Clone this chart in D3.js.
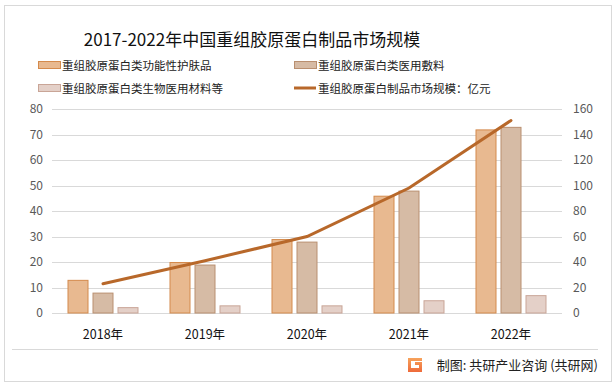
<!DOCTYPE html>
<html>
<head>
<meta charset="utf-8">
<script src="https://cdn.jsdelivr.net/npm/d3@7"></script>
<style>
  body { margin: 0; background: #fff; }
  svg { display: block; font-family: "Noto Sans CJK SC", "Microsoft YaHei", sans-serif; }
</style>
</head>
<body>
<div id="chart"></div>
<script>
const years = ['2018年', '2019年', '2020年', '2021年', '2022年'];
const seriesNames = ['重组胶原蛋白类功能性护肤品', '重组胶原蛋白类医用敷料', '重组胶原蛋白类生物医用材料等'];
const skincare = [13, 20, 29, 46, 72];
const dressing = [8, 19, 28, 48, 73];
const material = [2.3, 3, 3, 5, 7];
const lineName = '重组胶原蛋白制品市场规模：亿元';
const marketSize = [23, 41, 60, 98, 151];
const leftTicks = [0, 10, 20, 30, 40, 50, 60, 70, 80];
const rightTicks = [0, 20, 40, 60, 80, 100, 120, 140, 160];

const W = 616, H = 387;
const fills = ['#e8b990', '#d6bba5', '#e4d0c8'];
const strokes = ['#d48a4c', '#b98f70', '#c9a597'];
const lineColor = '#b8682a';

const svg = d3.select('#chart').append('svg').attr('width', W).attr('height', H);

// outer frame
svg.append('rect')
    .attr('x', 4.5).attr('y', 5.5).attr('width', 607).attr('height', 376)
    .attr('fill', 'none').attr('stroke', '#d9d9d9');

// title
svg.append('text')
    .attr('x', 252).attr('y', 46)
    .attr('text-anchor', 'middle')
    .attr('font-size', '17px')
    .attr('fill', '#111')
    .text('2017-2022年中国重组胶原蛋白制品市场规模');

// legend
const legend = [
    { x: 38, y: 65, kind: 'bar', i: 0, name: seriesNames[0] },
    { x: 294, y: 65, kind: 'bar', i: 1, name: seriesNames[1] },
    { x: 38, y: 88, kind: 'bar', i: 2, name: seriesNames[2] },
    { x: 294, y: 88, kind: 'line', name: lineName }
];
legend.forEach(d => {
    if (d.kind === 'bar') {
        svg.append('rect')
            .attr('x', d.x + 0.5).attr('y', d.y - 3.5).attr('width', 22).attr('height', 7)
            .attr('fill', fills[d.i]).attr('stroke', strokes[d.i]);
    } else {
        svg.append('line')
            .attr('x1', d.x).attr('x2', d.x + 22).attr('y1', d.y).attr('y2', d.y)
            .attr('stroke', lineColor).attr('stroke-width', 3);
    }
    svg.append('text')
        .attr('x', d.x + 24).attr('y', d.y + 4.5)
        .attr('font-size', '11.5px').attr('fill', '#222')
        .text(d.name);
});

// scales
const x0 = d3.scaleBand().domain(years).range([52, 562]);
const x1 = d3.scaleBand().domain([0, 1, 2]).range([-35.5, 35.5]).paddingInner(0.16);
const yL = d3.scaleLinear().domain([0, 80]).range([313, 109]);
const yR = d3.scaleLinear().domain([0, 160]).range([313, 109]);

// grid
svg.append('g').selectAll('line')
    .data(leftTicks)
    .join('line')
    .attr('x1', 52).attr('x2', 562)
    .attr('y1', d => Math.round(yL(d)) + 0.5).attr('y2', d => Math.round(yL(d)) + 0.5)
    .attr('stroke', '#d9d9d9');

// left axis
svg.append('g').selectAll('text')
    .data(leftTicks)
    .join('text')
    .attr('x', 43).attr('y', d => yL(d) + 4)
    .attr('text-anchor', 'end')
    .attr('font-size', '12px').attr('fill', '#595959')
    .text(d => d);

// right axis
svg.append('g').selectAll('text')
    .data(rightTicks)
    .join('text')
    .attr('x', 573).attr('y', d => yR(d) + 4)
    .attr('font-size', '12px').attr('fill', '#595959')
    .text(d => d);

// bars
const series = [skincare, dressing, material];
series.forEach((vals, i) => {
    svg.append('g').selectAll('rect')
        .data(vals)
        .join('rect')
        .attr('x', (d, j) => x0(years[j]) + x0.bandwidth() / 2 + x1(i) + 0.5)
        .attr('y', d => yL(d) + 0.5)
        .attr('width', x1.bandwidth() - 1)
        .attr('height', d => yL(0) - yL(d) - 0.5)
        .attr('fill', fills[i])
        .attr('stroke', strokes[i]);
});

// category labels
svg.append('g').selectAll('text')
    .data(years)
    .join('text')
    .attr('x', d => x0(d) + x0.bandwidth() / 2)
    .attr('y', 339)
    .attr('text-anchor', 'middle')
    .attr('font-size', '12.5px').attr('fill', '#111')
    .text(d => d);

// line
const line = d3.line()
    .x((d, j) => x0(years[j]) + x0.bandwidth() / 2)
    .y(d => yR(d));
svg.append('path')
    .datum(marketSize)
    .attr('d', line)
    .attr('fill', 'none')
    .attr('stroke', lineColor)
    .attr('stroke-width', 3)
    .attr('stroke-linecap', 'round');

// footer
svg.append('line')
    .attr('x1', 12).attr('x2', 598).attr('y1', 349.5).attr('y2', 349.5)
    .attr('stroke', '#d9d9d9');

const grad = svg.append('defs').append('linearGradient')
    .attr('id', 'logo').attr('x1', 0).attr('y1', 0).attr('x2', 0).attr('y2', 1);
grad.append('stop').attr('offset', '0%').attr('stop-color', '#f7a35c');
grad.append('stop').attr('offset', '100%').attr('stop-color', '#ee6a3a');
svg.append('path')
    .attr('d', 'M408,358 h14 v3 h-11 v7 h8 v-3 h-4 v-3 h7 v10 h-14 z')
    .attr('fill', 'url(#logo)');

svg.append('text')
    .attr('x', 598).attr('y', 370)
    .attr('text-anchor', 'end')
    .attr('font-size', '13px').attr('fill', '#222')
    .text('制图: 共研产业咨询 (共研网)');
</script>
</body>
</html>
